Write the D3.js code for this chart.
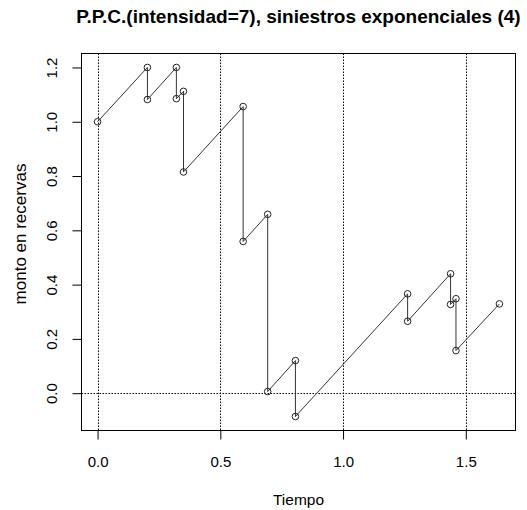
<!DOCTYPE html>
<html>
<head>
<meta charset="utf-8">
<script src="https://cdn.jsdelivr.net/npm/d3@7"></script>
<style>
  html, body { margin: 0; padding: 0; background: #fff; }
  svg { display: block; }
  text { font-family: "Liberation Sans", Arial, sans-serif; fill: #000; }
</style>
</head>
<body>
<script>
// ---- data ----
const startTime = 0;
const startValue = 1.0;
const claimTimes   = [0.203, 0.321, 0.350, 0.593, 0.693, 0.806, 1.263, 1.438, 1.460];
const levelBefore  = [1.200, 1.200, 1.112, 1.056, 0.659, 0.120, 0.366, 0.440, 0.348];
const levelAfter   = [1.082, 1.085, 0.815, 0.559, 0.006, -0.086, 0.265, 0.327, 0.157];
const endTime = 1.637;
const endValue = 0.329;
const xTicks = [0, 0.5, 1.0, 1.5];
const yTicks = [0, 0.2, 0.4, 0.6, 0.8, 1.0, 1.2];
const refXs = [0, 0.5, 1.0, 1.5];
const refYs = [0];
const titleText = "P.P.C.(intensidad=7), siniestros exponenciales (4)";
const xLabel = "Tiempo";
const yLabel = "monto en recervas";

// ---- build path vertices ----
const pts = [[startTime, startValue]];
claimTimes.forEach((t, i) => { pts.push([t, levelBefore[i]]); pts.push([t, levelAfter[i]]); });
pts.push([endTime, endValue]);

const W = 527, H = 510;
const box = { left: 81.5, right: 515.5, top: 53.5, bottom: 430.5 };

function padded(ext) { const r = ext[1] - ext[0]; return [ext[0] - 0.04 * r, ext[1] + 0.04 * r]; }
const x = d3.scaleLinear().domain(padded(d3.extent(pts, d => d[0]))).range([box.left, box.right]);
const y = d3.scaleLinear().domain(padded(d3.extent(pts, d => d[1]))).range([box.bottom, box.top]);

const svg = d3.select("body").append("svg").attr("width", W).attr("height", H);

// reference dotted lines
svg.append("defs").append("clipPath").attr("id", "c")
  .append("rect").attr("x", box.left).attr("y", box.top)
  .attr("width", box.right - box.left).attr("height", box.bottom - box.top);
const g = svg.append("g").attr("clip-path", "url(#c)");
g.selectAll("line.vx").data(refXs).join("line")
  .attr("x1", d => Math.round(x(d)) + 0.5).attr("x2", d => Math.round(x(d)) + 0.5)
  .attr("y1", box.top).attr("y2", box.bottom)
  .attr("stroke", "#000").attr("stroke-width", 1).attr("stroke-dasharray", "1.5,1.5");
g.selectAll("line.hy").data(refYs).join("line")
  .attr("y1", d => Math.round(y(d)) + 0.5).attr("y2", d => Math.round(y(d)) + 0.5)
  .attr("x1", box.left).attr("x2", box.right)
  .attr("stroke", "#000").attr("stroke-width", 1).attr("stroke-dasharray", "1.5,1.5");

// process line
g.append("path").datum(pts)
  .attr("d", d3.line().x(d => x(d[0])).y(d => y(d[1])))
  .attr("fill", "none").attr("stroke", "#333").attr("stroke-width", 1);
g.selectAll("circle").data(pts).join("circle")
  .attr("cx", d => x(d[0])).attr("cy", d => y(d[1])).attr("r", 3.3)
  .attr("fill", "none").attr("stroke", "#222").attr("stroke-width", 1);

// box
svg.append("rect").attr("x", box.left).attr("y", box.top)
  .attr("width", box.right - box.left).attr("height", box.bottom - box.top)
  .attr("fill", "none").attr("stroke", "#000").attr("stroke-width", 1);

// axes
const xAxis = d3.axisBottom(x).tickValues(xTicks).tickFormat(d3.format(".1f")).tickSize(9).tickPadding(6);
const gx = svg.append("g").attr("transform", `translate(0,${box.bottom})`).call(xAxis);
gx.select(".domain").remove();
gx.selectAll("line").attr("stroke", "#000");
gx.selectAll("text").attr("font-size", 15).attr("font-family", "Liberation Sans, Arial, sans-serif")
  .attr("dy", null).attr("y", 36.5);

const yAxis = d3.axisLeft(y).tickValues(yTicks).tickFormat(d3.format(".1f")).tickSize(9);
const gy = svg.append("g").attr("transform", `translate(${box.left},0)`).call(yAxis);
gy.select(".domain").remove();
gy.selectAll("line").attr("stroke", "#000");
gy.selectAll("text")
  .attr("font-size", 15).attr("font-family", "Liberation Sans, Arial, sans-serif")
  .attr("x", null).attr("dy", null).attr("y", null)
  .attr("text-anchor", "middle")
  .attr("transform", "translate(-25,0) rotate(-90)");

// title & labels
const cx = (box.left + box.right) / 2;
svg.append("text").attr("x", cx).attr("y", 23).attr("text-anchor", "middle")
  .attr("font-size", 19).attr("font-weight", "bold").text(titleText);
svg.append("text").attr("x", cx).attr("y", 505).attr("text-anchor", "middle")
  .attr("font-size", 15.5).text(xLabel);
svg.append("text").attr("transform", `translate(26,234) rotate(-90)`).attr("text-anchor", "middle")
  .attr("font-size", 17).text(yLabel);
</script>
</body>
</html>
